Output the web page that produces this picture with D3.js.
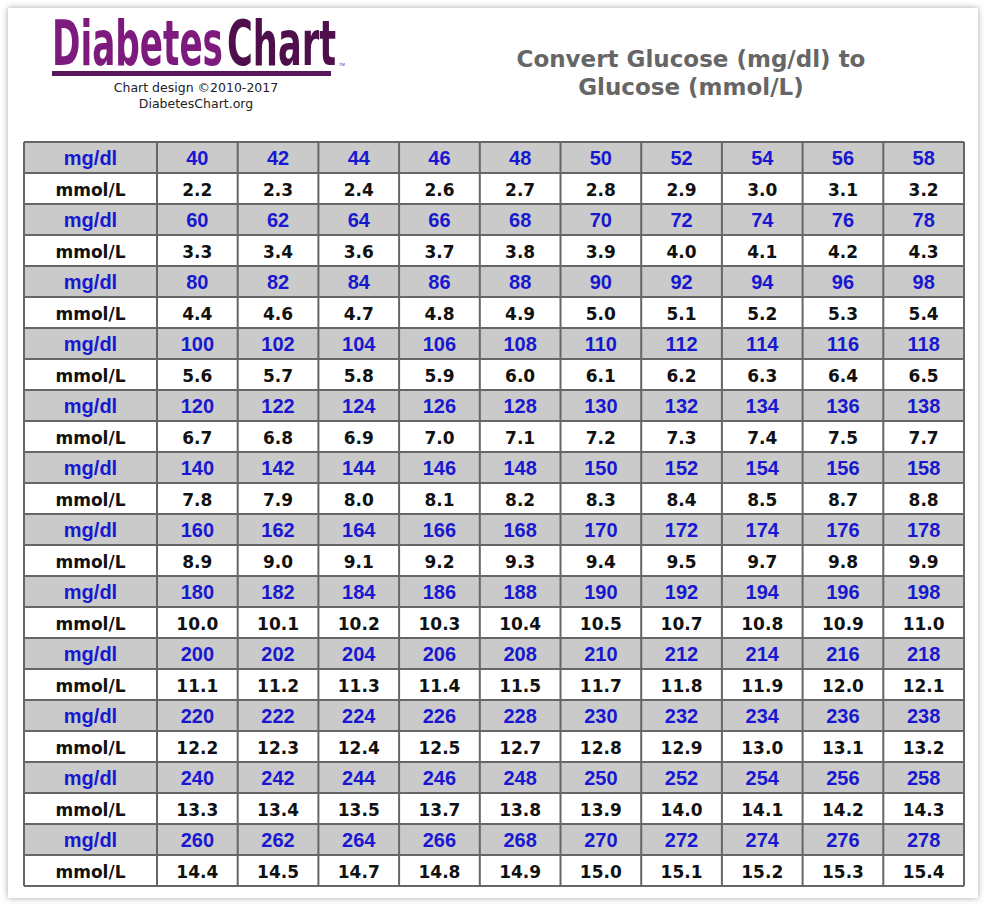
<!DOCTYPE html>
<meta charset="utf-8">
<title>Convert Glucose (mg/dl) to Glucose (mmol/L)</title>
<style>
  body { margin: 0; background: #fff; }
</style>
<body>
<div id="chart"></div>
<script src="https://d3js.org/d3.v7.min.js"></script>
<script>

// labels of the two row kinds
var rowLabels = ["mg/dl", "mmol/L"];

// mg/dl values, one list per row pair
var mgdl = [
  [40, 42, 44, 46, 48, 50, 52, 54, 56, 58],
  [60, 62, 64, 66, 68, 70, 72, 74, 76, 78],
  [80, 82, 84, 86, 88, 90, 92, 94, 96, 98],
  [100, 102, 104, 106, 108, 110, 112, 114, 116, 118],
  [120, 122, 124, 126, 128, 130, 132, 134, 136, 138],
  [140, 142, 144, 146, 148, 150, 152, 154, 156, 158],
  [160, 162, 164, 166, 168, 170, 172, 174, 176, 178],
  [180, 182, 184, 186, 188, 190, 192, 194, 196, 198],
  [200, 202, 204, 206, 208, 210, 212, 214, 216, 218],
  [220, 222, 224, 226, 228, 230, 232, 234, 236, 238],
  [240, 242, 244, 246, 248, 250, 252, 254, 256, 258],
  [260, 262, 264, 266, 268, 270, 272, 274, 276, 278]
];

// matching mmol/L values as printed on the chart
var mmol = [
  ["2.2", "2.3", "2.4", "2.6", "2.7", "2.8", "2.9", "3.0", "3.1", "3.2"],
  ["3.3", "3.4", "3.6", "3.7", "3.8", "3.9", "4.0", "4.1", "4.2", "4.3"],
  ["4.4", "4.6", "4.7", "4.8", "4.9", "5.0", "5.1", "5.2", "5.3", "5.4"],
  ["5.6", "5.7", "5.8", "5.9", "6.0", "6.1", "6.2", "6.3", "6.4", "6.5"],
  ["6.7", "6.8", "6.9", "7.0", "7.1", "7.2", "7.3", "7.4", "7.5", "7.7"],
  ["7.8", "7.9", "8.0", "8.1", "8.2", "8.3", "8.4", "8.5", "8.7", "8.8"],
  ["8.9", "9.0", "9.1", "9.2", "9.3", "9.4", "9.5", "9.7", "9.8", "9.9"],
  ["10.0", "10.1", "10.2", "10.3", "10.4", "10.5", "10.7", "10.8", "10.9", "11.0"],
  ["11.1", "11.2", "11.3", "11.4", "11.5", "11.7", "11.8", "11.9", "12.0", "12.1"],
  ["12.2", "12.3", "12.4", "12.5", "12.7", "12.8", "12.9", "13.0", "13.1", "13.2"],
  ["13.3", "13.4", "13.5", "13.7", "13.8", "13.9", "14.0", "14.1", "14.2", "14.3"],
  ["14.4", "14.5", "14.7", "14.8", "14.9", "15.0", "15.1", "15.2", "15.3", "15.4"]
];

var titleLines = ["Convert Glucose (mg/dl) to", "Glucose (mmol/L)"];
var creditLines = ["Chart design \u00a92010-2017", "DiabetesChart.org"];

var W = 986, H = 906;

var svg = d3.select("#chart")
  .append("svg")
    .attr("width", W)
    .attr("height", H);

// soft shadow round the card
var defs = svg.append("defs");
var f = defs.append("filter").attr("id", "shadow")
    .attr("x", "-5%").attr("y", "-5%").attr("width", "110%").attr("height", "110%");
f.append("feDropShadow")
    .attr("dx", 0).attr("dy", 0).attr("stdDeviation", 3)
    .attr("flood-color", "#000").attr("flood-opacity", 0.35);

svg.append("rect")
    .attr("x", 8).attr("y", 8)
    .attr("width", 970).attr("height", 890)
    .attr("fill", "#fff")
    .attr("filter", "url(#shadow)");

// logo: two words, each squeezed to its own width
var logo = svg.append("g")
    .attr("font-family", "'Liberation Sans Narrow', 'DejaVu Sans Condensed', sans-serif")
    .attr("font-weight", "bold")
    .attr("font-size", 62);
logo.append("text")
    .attr("x", 52).attr("y", 65)
    .attr("fill", "#7e1a7e")
    .attr("textLength", 171)
    .attr("lengthAdjust", "spacingAndGlyphs")
    .text("Diabetes");
logo.append("text")
    .attr("x", 227).attr("y", 65)
    .attr("fill", "#4e0f4a")
    .attr("textLength", 109)
    .attr("lengthAdjust", "spacingAndGlyphs")
    .text("Chart");
logo.append("rect")
    .attr("x", 52).attr("y", 71)
    .attr("width", 279).attr("height", 5)
    .attr("fill", "#5a165a");
svg.append("text")
    .attr("x", 339).attr("y", 66)
    .attr("font-family", "Arial, sans-serif")
    .attr("font-size", 4)
    .attr("fill", "#5a165a")
    .text("TM");

svg.append("g").selectAll("text")
  .data(creditLines)
  .join("text")
    .attr("x", 196)
    .attr("y", function(d, i) { return 92 + i * 16; })
    .attr("text-anchor", "middle")
    .attr("font-family", "Verdana, 'DejaVu Sans', sans-serif")
    .attr("font-size", 12.5)
    .attr("fill", "#222")
    .text(function(d) { return d; });

// title
svg.append("g").selectAll("text")
  .data(titleLines)
  .join("text")
    .attr("x", 691)
    .attr("y", function(d, i) { return 67 + i * 28; })
    .attr("text-anchor", "middle")
    .attr("font-family", "Verdana, 'DejaVu Sans', sans-serif")
    .attr("font-weight", "bold")
    .attr("font-size", 23)
    .attr("fill", "#666")
    .text(function(d) { return d; });

// table scales
var nRows = mgdl.length * 2;
var y = d3.scaleBand()
    .domain(d3.range(nRows))
    .range([142, 886]);
var x = d3.scaleBand()
    .domain(d3.range(mgdl[0].length))
    .range([157, 964]);
var labelX0 = 24;

// flatten into rows of cells
var rows = [];
mgdl.forEach(function(r, i) {
  rows.push({ kind: 0, label: rowLabels[0], values: r.map(String) });
  rows.push({ kind: 1, label: rowLabels[1], values: mmol[i] });
});

var table = svg.append("g");

var row = table.selectAll("g.row")
  .data(rows)
  .join("g")
    .attr("class", "row")
    .attr("transform", function(d, i) { return "translate(0," + y(i) + ")"; });

row.append("rect")
    .attr("x", labelX0)
    .attr("width", 964 - labelX0)
    .attr("height", y.bandwidth())
    .attr("fill", function(d) { return d.kind === 0 ? "#cacaca" : "#fff"; });

function styleText(sel) {
  sel.attr("text-anchor", "middle")
    .attr("y", y.bandwidth() / 2)
    .attr("dy", function() { return this.parentNode.__data__.kind === 0 ? "0.36em" : "0.42em"; })
    .attr("font-weight", "bold")
    .attr("font-family", function() {
      return this.parentNode.__data__.kind === 0 ? "Arial, 'Liberation Sans', sans-serif" : "Verdana, 'DejaVu Sans', sans-serif";
    })
    .attr("font-size", function() { return this.parentNode.__data__.kind === 0 ? 20 : 17; })
    .attr("fill", function() { return this.parentNode.__data__.kind === 0 ? "#1818d0" : "#111"; });
}

row.append("text")
    .attr("x", (labelX0 + x.range()[0]) / 2)
    .text(function(d) { return d.label; })
    .call(styleText);

row.selectAll("text.val")
  .data(function(d) { return d.values; })
  .join("text")
    .attr("class", "val")
    .attr("x", function(d, i) { return x(i) + x.bandwidth() / 2; })
    .text(function(d) { return d; })
    .call(styleText);

// grid lines
var grid = table.append("g")
    .attr("stroke", "#666")
    .attr("stroke-width", 2);
grid.selectAll("line.h")
  .data(d3.range(nRows + 1))
  .join("line")
    .attr("x1", labelX0).attr("x2", 964)
    .attr("y1", function(i) { return i < nRows ? y(i) : y.range()[1]; })
    .attr("y2", function(i) { return i < nRows ? y(i) : y.range()[1]; });
grid.selectAll("line.v")
  .data([labelX0].concat(x.domain().map(x), [x.range()[1]]))
  .join("line")
    .attr("y1", y.range()[0]).attr("y2", y.range()[1])
    .attr("x1", function(d) { return d; })
    .attr("x2", function(d) { return d; });

</script>
</body>
